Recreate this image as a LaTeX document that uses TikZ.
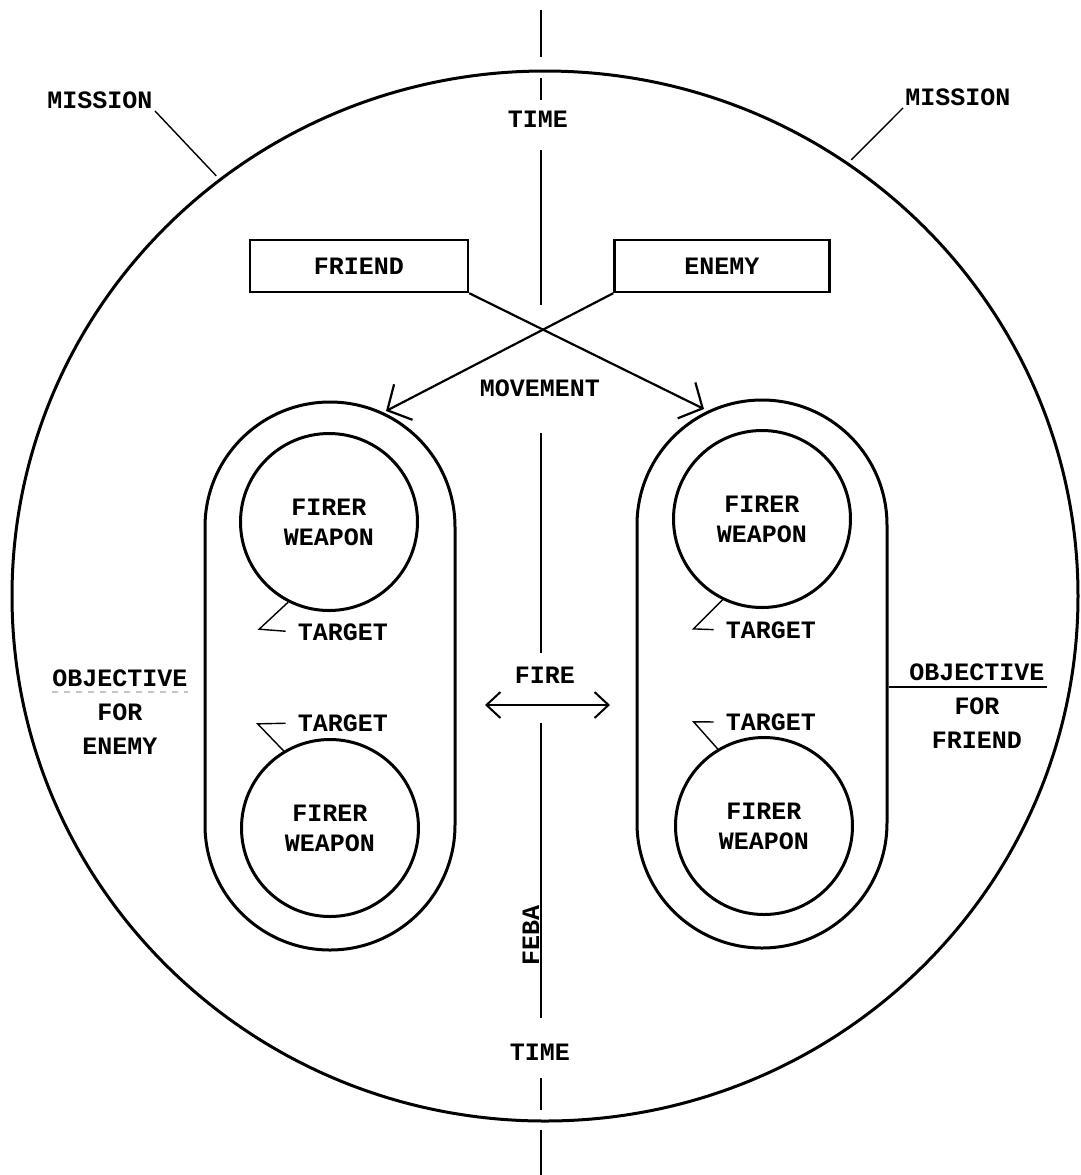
\documentclass[tikz,border=0pt]{standalone}
\usepackage{fontspec}
\setmainfont{Liberation Mono}
\usetikzlibrary{arrows.meta,shapes.geometric}

\begin{document}
\begin{tikzpicture}[x=0.5pt,y=-0.5pt,
	lbl/.style={font=\bfseries\fontsize{12.5}{17}\selectfont, align=center, inner sep=1pt},
	box/.style={draw, line width=1.2pt, minimum width=109pt, minimum height=26pt, lbl},
	zone/.style={draw, line width=1.5pt, minimum width=125pt, minimum height=274pt, rounded corners=62.5pt},
	firer/.style={draw, circle, line width=1.5pt, minimum size=88.5pt, inner sep=0pt, lbl,
		font=\bfseries\fontsize{12.5}{15}\selectfont},
	lead/.style={line width=0.7pt},
	rule/.style={line width=1.3pt},
	move/.style={line width=1.1pt, -{Straight Barb[length=9pt,width=20pt]}}]
	\useasboundingbox (0,0) rectangle (1081,1175);

	% the field and the time line
	\node[draw, ellipse, line width=1.5pt, minimum width=533pt, minimum height=525pt] (field) at (545,596) {};
	\foreach \a/\b in {10/57, 78/100, 150/305, 433/653, 723/1018, 1078/1110, 1130/1175}
		\draw[rule] (541,\a) -- (541,\b);
	\node[lbl] (ttop) at (538,119) {TIME};
	\node[lbl] (tbot) at (540,1052) {TIME};
	\node[lbl, rotate=90] (feba) at (531,935) {FEBA};

	\node[lbl] (lmission) at (100,100) {MISSION};
	\node[lbl] (rmission) at (958,97) {MISSION};
	\draw[lead, shorten >=2pt] (lmission.south east) -- (field.128);
	\draw[lead, shorten >=2pt] (rmission.south west) -- (field.55);

	% friend and enemy
	\node[box] (friend) at (359,266) {FRIEND};
	\node[box, minimum width=107.5pt] (enemy) at (722,266) {ENEMY};
	\node[lbl] (move) at (540,388) {MOVEMENT};

	\node[zone] (lzone) at (330,676) {};
	\node[zone] (rzone) at (762,674) {};
	\coordinate (ltip) at (386,411);
	\coordinate (rtip) at (704,409);
	\draw[move] (friend.south east) -- (rtip);
	\draw[move] (enemy.south west) -- (ltip);

	\node[firer] (lf1) at (329,522) {FIRER\\WEAPON};
	\node[firer] (lf2) at (330,828) {FIRER\\WEAPON};
	\node[firer] (rf1) at (762,519) {FIRER\\WEAPON};
	\node[firer] (rf2) at (764,826) {FIRER\\WEAPON};

	\node[lbl] (ltg1) at (343,632) {TARGET};
	\node[lbl] (ltg2) at (343,723) {TARGET};
	\node[lbl] (rtg1) at (771,630) {TARGET};
	\node[lbl] (rtg2) at (771,722) {TARGET};
	\draw[lead, shorten >=5pt] (lf1.243) -- ++(-29,27) -- (ltg1.west);
	\draw[lead, shorten >=5pt] (lf2.121) -- ++(-26,-27) -- (ltg2.west);
	\draw[lead, shorten >=5pt] (rf1.244) -- ++(-29,29) -- (rtg1.west);
	\draw[lead, shorten >=5pt] (rf2.121) -- ++(-24,-27) -- (rtg2.west);

	% fire across the line
	\node[lbl] (fire) at (545,675) {FIRE};
	\coordinate (fl) at (485,705);
	\coordinate (fr) at (610,705);
	\draw[line width=1pt, {Straight Barb[length=7pt,width=13pt]}-{Straight Barb[length=7pt,width=13pt]}] (fl) -- (fr);

	% objectives
	\node[lbl] (lobj) at (120,712) {OBJECTIVE\\FOR\\ENEMY};
	\node[lbl] (robj) at (977,706) {OBJECTIVE\\FOR\\FRIEND};
	\coordinate (lul) at (52,692);
	\coordinate (rul) at (1047,687);
	\draw[lead, gray!45, dashed] (lul) -- ++(136,0);
	\draw[lead] (rzone.east |- rul) -- (rul);
\end{tikzpicture}
\end{document}
